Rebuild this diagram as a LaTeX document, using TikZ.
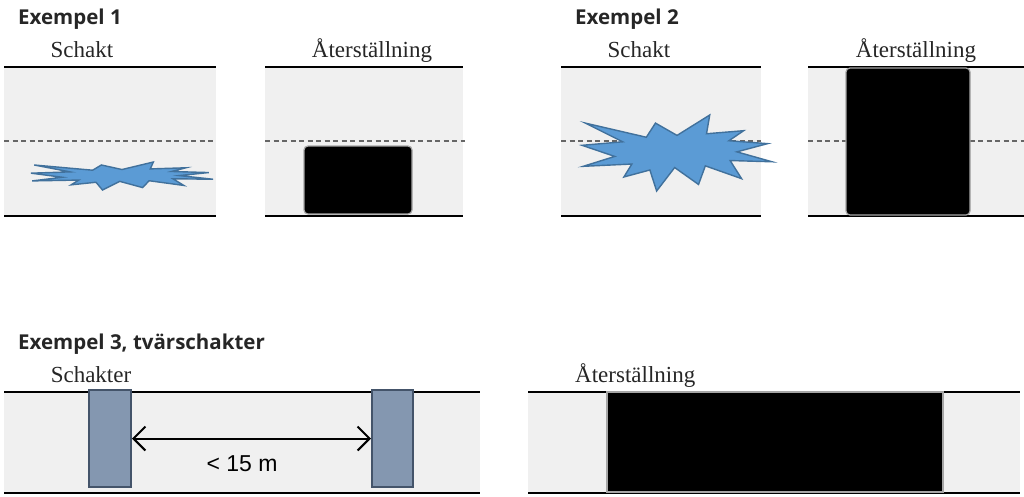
\documentclass[tikz,border=0pt]{standalone}
\usepackage{fontspec}
\setmainfont{Liberation Serif}
\newfontfamily\headfont{Open Sans}
\newfontfamily\armfont{Liberation Sans}
\usetikzlibrary{arrows.meta}
\definecolor{roadgray}{HTML}{F0F0F0}
\definecolor{ink}{HTML}{262626}
\definecolor{blastfill}{HTML}{5B9BD5}
\definecolor{blastline}{HTML}{41719C}
\definecolor{pitfill}{HTML}{8497B0}
\definecolor{pitline}{HTML}{44546A}
% explosion outline, in percent of its box
\def\blast{(50,26.85) -- (67.23,0) -- (65.53,24.65) -- (85.09,20.63) -- (77.32,33.87)
  -- (97.67,37.67) -- (81.51,48.50) -- (100,61.53) -- (77.95,59.92) -- (84.00,83.77)
  -- (64.91,66.93) -- (61.33,91.38) -- (48.76,69.14) -- (39.28,100) -- (35.72,72.35)
  -- (22.05,81.56) -- (26.24,64.52) -- (0.63,67.53) -- (17.23,54.51) -- (0,39.88)
  -- (21.42,35.26) -- (1.71,10.63) -- (33.85,29.26) -- (38.67,10.63) -- cycle}
\begin{document}
\begin{tikzpicture}[x=1pt,y=-1pt,
    head/.style={font=\headfont\bfseries\fontsize{20.5}{24}\selectfont,text=ink,anchor=base west,inner sep=0pt},
    sub/.style={font=\fontsize{23}{27}\selectfont,text=ink,anchor=base,inner sep=0pt},
    road/.style={fill=roadgray},
    kerb/.style={line width=1.6pt},
    kerbb/.style={line width=2.6pt},
    mid/.style={draw=black!60,line width=1.2pt,dash pattern=on 5pt off 3.5pt},
    patch/.style={fill=black,draw=gray!70,line width=1.2pt,rounded corners=4pt},
    blaststyle/.style={fill=blastfill,draw=blastline,line width=1.4pt,line join=miter},
    pit/.style={draw=pitline,fill=pitfill,line width=2pt,inner sep=0pt},
    span/.style={{Straight Barb[length=12pt,width=24pt]}-{Straight Barb[length=12pt,width=24pt]},line width=2pt},
    dist/.style={font=\armfont\fontsize{23}{27}\selectfont,anchor=base,inner sep=0pt}]
  \useasboundingbox (0,0) rectangle (1024,496);

  % Exempel 1
  \node (ex1) [head] at (18,24) {Exempel 1};
  \node (dig1) [sub] at (82,57) {Schakt};
  \node (fix1) [sub] at (372,57) {Återställning};
  \fill[road] (4,67) rectangle (216,216);
  \draw[kerb] (4,67) -- (216,67);
  \draw[kerbb] (4,216) -- (216,216);
  \draw[mid] (4,141) -- (216,141);
  \draw[blaststyle,shift={(31,162)},xscale=1.82,yscale=0.28] \blast;
  \fill[road] (265,67) rectangle (463,216);
  \draw[kerb] (265,67) -- (463,67);
  \draw[kerbb] (265,216) -- (463,216);
  \draw[mid] (265,141) -- (465,141);
  \draw[patch] (304,146) rectangle (412,214);

  % Exempel 2
  \node (ex2) [head] at (575,24) {Exempel 2};
  \node (dig2) [sub] at (639,57) {Schakt};
  \node (fix2) [sub] at (916,57) {Återställning};
  \fill[road] (561,67) rectangle (761,216);
  \draw[kerb] (561,67) -- (761,67);
  \draw[kerbb] (561,216) -- (761,216);
  \draw[mid] (561,141) -- (761,141);
  \draw[blaststyle,shift={(582,115)},xscale=1.90,yscale=0.76] \blast;
  \fill[road] (808,67) rectangle (1024,216);
  \draw[kerb] (808,67) -- (1024,67);
  \draw[kerbb] (808,216) -- (1024,216);
  \draw[mid] (808,141) -- (1024,141);
  \draw[patch] (846,68) rectangle (970,215);

  % Exempel 3
  \node (ex3) [head] at (18,349) {Exempel 3, tvärschakter};
  \node (digs) [sub] at (91,382) {Schakter};
  \node (fix3) [sub,anchor=base west] at (575,382) {Återställning};
  \fill[road] (4,392) rectangle (480,493);
  \draw[kerb] (4,392) -- (480,392);
  \draw[kerbb] (4,493) -- (480,493);
  \node (p1) [pit,minimum width=42pt,minimum height=97pt] at (110,438.5) {};
  \node (p2) [pit,minimum width=41pt,minimum height=97pt] at (392.5,438.5) {};
  \draw[span] (p1.east) -- (p2.west);
  \node (gap) [dist] at (242,471) {< 15 m};
  \fill[road] (528,392) rectangle (1020,493);
  \draw[kerb] (528,392) -- (1020,392);
  \draw[kerbb] (528,493) -- (1020,493);
  \draw[patch,rounded corners=0pt] (607,392) rectangle (943,492);
\end{tikzpicture}
\end{document}
